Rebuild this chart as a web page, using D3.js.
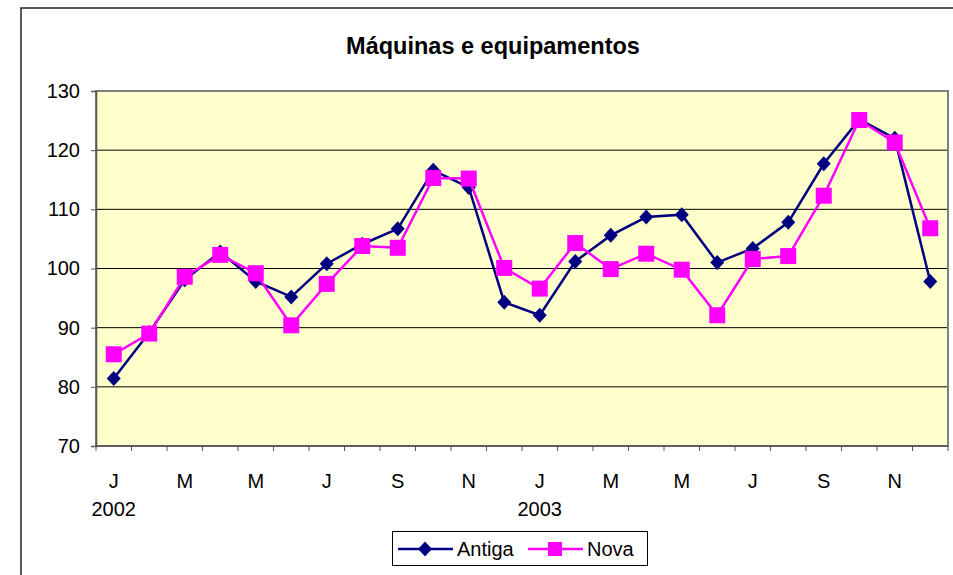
<!DOCTYPE html>
<html>
<head>
<meta charset="utf-8">
<script src="https://cdn.jsdelivr.net/npm/d3@7"></script>
<style>
  body { margin: 0; background: #fff; }
  text { font-family: Arial, "Liberation Sans", sans-serif; }
</style>
</head>
<body>
<svg id="chart" width="953" height="575"></svg>
<script>
// months Jan 2002 .. Dec 2003
var months = ["J","F","M","A","M","J","J","A","S","O","N","D",
              "J","F","M","A","M","J","J","A","S","O","N","D"];
var years = ["2002","","","","","","","","","","","",
             "2003","","","","","","","","","","",""];
var antiga = [81.4, 89.2, 98.1, 102.8, 97.8, 95.2, 100.8, 104.1, 106.7, 116.6, 113.7, 94.3,
              92.1, 101.2, 105.6, 108.7, 109.1, 101.0, 103.4, 107.8, 117.7, 125.2, 122.0, 97.8];
var nova = [85.5, 89.0, 98.6, 102.3, 99.2, 90.4, 97.4, 103.8, 103.5, 115.3, 115.2, 100.1,
            96.6, 104.3, 99.9, 102.5, 99.8, 92.1, 101.6, 102.1, 112.3, 125.1, 121.3, 106.8];
var yTicks = [70, 80, 90, 100, 110, 120, 130];

var svg = d3.select("#chart");

// outer chart frame
svg.append("rect")
    .attr("x", 21).attr("y", 8)
    .attr("width", 960).attr("height", 600)
    .attr("fill", "#fff")
    .attr("stroke", "#222")
    .attr("stroke-width", 1.5);

var plotL = 96, plotR = 948, plotT = 91, plotB = 446;

var idx = d3.range(months.length);
var x = d3.scaleBand().domain(idx).range([plotL, plotR]);
var y = d3.scaleLinear().domain([70, 130]).range([plotB, plotT]);

// plot area
svg.append("rect")
    .attr("x", plotL).attr("y", plotT)
    .attr("width", plotR - plotL).attr("height", plotB - plotT)
    .attr("fill", "#ffffcc");

// gridlines
svg.selectAll("line.grid")
    .data(yTicks.slice(1, -1))
    .enter()
    .append("line")
    .attr("class", "grid")
    .attr("x1", plotL).attr("x2", plotR)
    .attr("y1", function(d) { return y(d); })
    .attr("y2", function(d) { return y(d); })
    .attr("stroke", "#000")
    .attr("stroke-width", 1);

// plot border (gray)
svg.append("rect")
    .attr("x", plotL).attr("y", plotT)
    .attr("width", plotR - plotL).attr("height", plotB - plotT)
    .attr("fill", "none")
    .attr("stroke", "#808080")
    .attr("stroke-width", 2);

// y axis
var yAxis = d3.axisLeft(y).tickValues(yTicks).tickSize(5).tickPadding(11);
var gy = svg.append("g")
    .attr("transform", "translate(" + plotL + ",0)")
    .call(yAxis);
gy.select(".domain").attr("stroke", "#555").attr("stroke-width", 1.5);
gy.selectAll(".tick line").attr("stroke", "#555");
gy.selectAll("text")
    .attr("font-size", 20)
    .attr("fill", "#000")
    .style("font-family", "Arial, 'Liberation Sans', sans-serif");

// x axis ticks at category boundaries
var bounds = d3.range(months.length + 1);
svg.selectAll("line.xtick")
    .data(bounds)
    .enter()
    .append("line")
    .attr("class", "xtick")
    .attr("x1", function(d) { return plotL + d * x.step(); })
    .attr("x2", function(d) { return plotL + d * x.step(); })
    .attr("y1", plotB)
    .attr("y2", plotB + 5)
    .attr("stroke", "#555");
svg.append("line")
    .attr("x1", plotL).attr("x2", plotR)
    .attr("y1", plotB).attr("y2", plotB)
    .attr("stroke", "#555").attr("stroke-width", 1.5);

// month labels, every other month
svg.selectAll("text.month")
    .data(idx.filter(function(i) { return i % 2 === 0; }))
    .enter()
    .append("text")
    .attr("class", "month")
    .attr("x", function(d) { return x(d) + x.bandwidth() / 2; })
    .attr("y", 488)
    .attr("text-anchor", "middle")
    .attr("font-size", 20)
    .text(function(d) { return months[d]; });

svg.selectAll("text.year")
    .data(idx.filter(function(i) { return years[i] !== ""; }))
    .enter()
    .append("text")
    .attr("class", "year")
    .attr("x", function(d) { return x(d) + x.bandwidth() / 2; })
    .attr("y", 516)
    .attr("text-anchor", "middle")
    .attr("font-size", 20)
    .text(function(d) { return years[d]; });

// title
svg.append("text")
    .attr("x", 493)
    .attr("y", 54)
    .attr("text-anchor", "middle")
    .attr("font-size", 23.5)
    .attr("font-weight", "bold")
    .text("Máquinas e equipamentos");

var line = d3.line()
    .x(function(d, i) { return x(i) + x.bandwidth() / 2; })
    .y(function(d) { return y(d); });

var diamondPath = "M0,-7.5L7,0L0,7.5L-7,0Z";

function drawSeries(values, color, kind) {
    svg.append("path")
        .datum(values)
        .attr("d", line)
        .attr("fill", "none")
        .attr("stroke", color)
        .attr("stroke-width", 2.5);
    var g = svg.append("g");
    if (kind === "diamond") {
        g.selectAll("path")
            .data(values)
            .enter()
            .append("path")
            .attr("d", diamondPath)
            .attr("transform", function(d, i) {
                return "translate(" + (x(i) + x.bandwidth() / 2) + "," + y(d) + ")";
            })
            .attr("fill", color);
    } else {
        g.selectAll("rect")
            .data(values)
            .enter()
            .append("rect")
            .attr("x", function(d, i) { return x(i) + x.bandwidth() / 2 - 8; })
            .attr("y", function(d) { return y(d) - 8; })
            .attr("width", 16)
            .attr("height", 16)
            .attr("fill", color);
    }
}

drawSeries(antiga, "#000080", "diamond");
drawSeries(nova, "#ff00ff", "square");

// legend
var legend = svg.append("g");
legend.append("rect")
    .attr("x", 392.5).attr("y", 531.5)
    .attr("width", 255).attr("height", 34)
    .attr("fill", "#fff")
    .attr("stroke", "#000");
var legItems = [
    { name: "Antiga", color: "#000080", kind: "diamond", x0: 398 },
    { name: "Nova", color: "#ff00ff", kind: "square", x0: 528 }
];
legItems.forEach(function(it) {
    var cy = 549;
    legend.append("line")
        .attr("x1", it.x0).attr("x2", it.x0 + 55)
        .attr("y1", cy).attr("y2", cy)
        .attr("stroke", it.color).attr("stroke-width", 2.5);
    if (it.kind === "diamond") {
        legend.append("path")
            .attr("d", diamondPath)
            .attr("transform", "translate(" + (it.x0 + 27) + "," + cy + ")")
            .attr("fill", it.color);
    } else {
        legend.append("rect")
            .attr("x", it.x0 + 27 - 7).attr("y", cy - 7)
            .attr("width", 14).attr("height", 14)
            .attr("fill", it.color);
    }
    legend.append("text")
        .attr("x", it.x0 + 59)
        .attr("y", cy + 7)
        .attr("font-size", 20)
        .text(it.name);
});
</script>
</body>
</html>
